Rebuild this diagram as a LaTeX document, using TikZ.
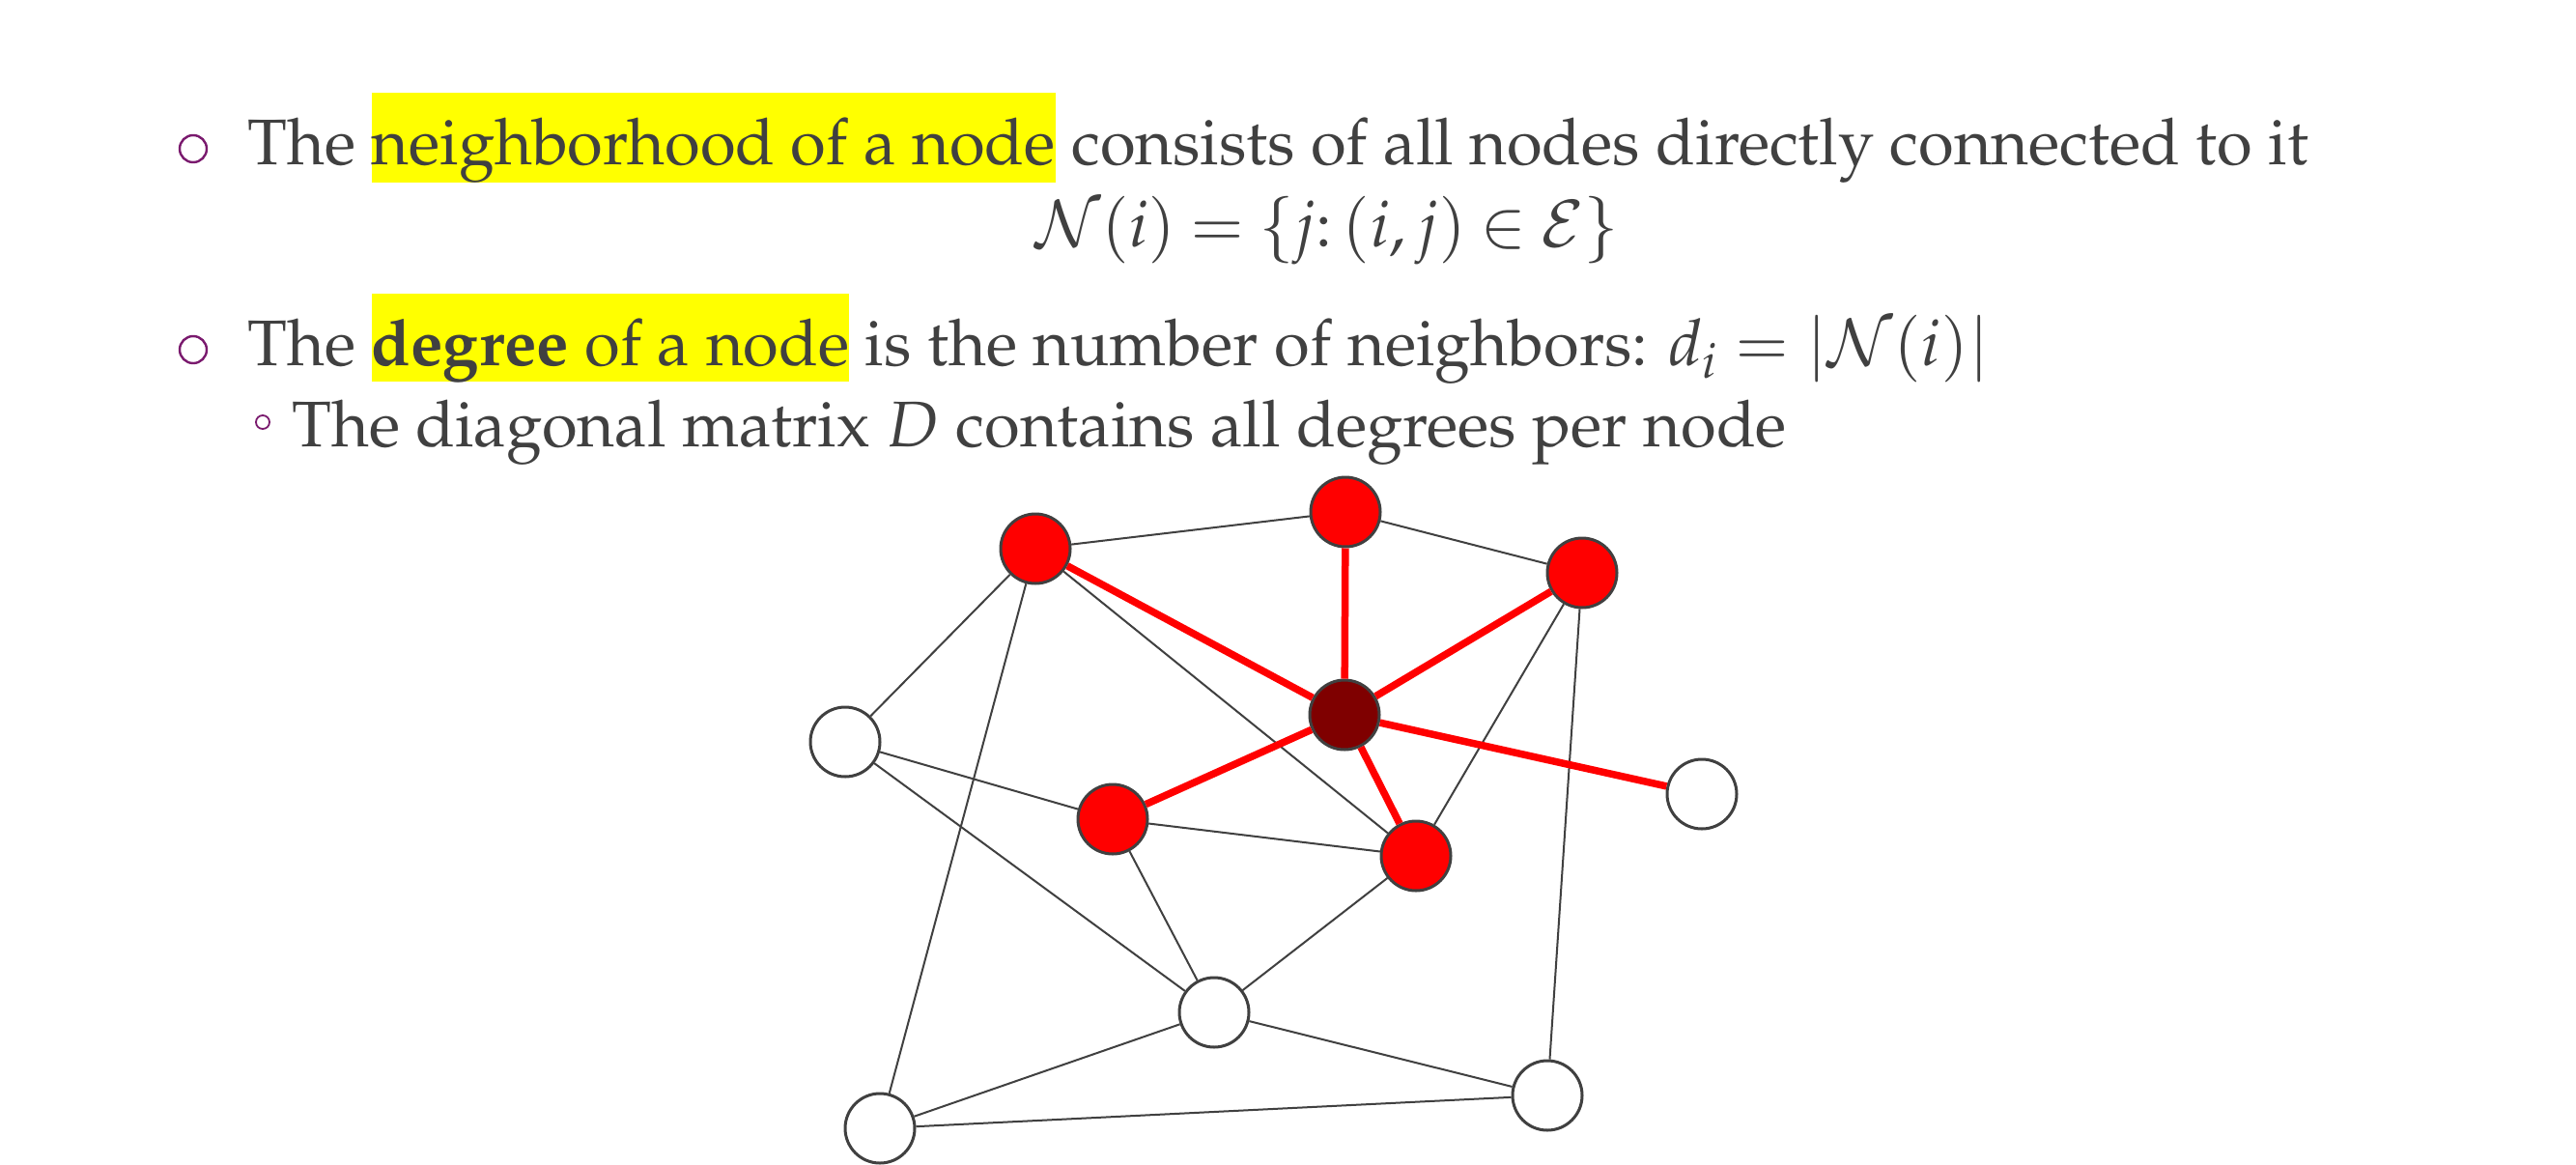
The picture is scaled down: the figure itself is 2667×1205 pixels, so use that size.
\documentclass[tikz,border=0pt]{standalone}
\usepackage[T1]{fontenc}
\usepackage{mathpazo}
\definecolor{txt}{HTML}{404040}
\definecolor{bul}{HTML}{7A1A6E}
\definecolor{hly}{HTML}{FFFF00}
\definecolor{nred}{HTML}{FF0000}
\definecolor{ndark}{HTML}{7F0000}
\definecolor{edgegray}{HTML}{404040}
\newcommand{\hlbox}[1]{{\setlength{\fboxsep}{0pt}\colorbox{hly}{\rule[-16pt]{0pt}{90pt}#1}}}
\begin{document}
\begin{tikzpicture}[x=1pt,y=-1pt,
  txtline/.style={anchor=base west,inner sep=0pt,text=txt,font=\fontsize{66.8}{80}\selectfont},
  eqline/.style={anchor=base,inner sep=0pt,text=txt,font=\fontsize{66.8}{80}\selectfont},
  bulletmark/.style={circle,draw=bul,line width=2.4pt,minimum size=28pt,inner sep=0pt},
  subbullet/.style={circle,draw=bul,line width=1.8pt,minimum size=14pt,inner sep=0pt},
  vtx/.style={circle,draw=edgegray,line width=3pt,minimum size=72pt,inner sep=0pt,fill=white},
  vred/.style={vtx,fill=nred},
  vdark/.style={vtx,fill=ndark},
  thinedge/.style={draw=edgegray,line width=2pt},
  rededge/.style={draw=nred,line width=7.5pt},
]
\useasboundingbox[fill=white] (0,0) rectangle (2667,1205);

% text
\node[bulletmark] (b1) at (200,154) {};
\node[txtline] (l1) at (256,170) {The \hlbox{neighborhood of a node} consists of all nodes directly connected to it};
\node[eqline] (eq) at (1374,255) {\thickmuskip=4mu plus 2mu$\mathcal{N}(i) = \{j\colon (i,j)\in\mathcal{E}\}$};
\node[bulletmark] (b2) at (200,362) {};
\node[txtline] (l2) at (256,378) {The \hlbox{\textbf{degree} of a node} is the number of neighbors: $d_i = |\mathcal{N}(i)|$};
\node[subbullet] (b3) at (272,437) {};
\node[txtline] (l3) at (302,462) {The diagonal matrix $D$ contains all degrees per node};

% graph nodes
\node[vred]  (A) at (1072,568) {};
\node[vred]  (B) at (1393,530) {};
\node[vred]  (C) at (1638,593) {};
\node[vdark] (X) at (1392,740) {};
\node[vtx]   (D) at (875,768) {};
\node[vtx]   (E) at (1762,822) {};
\node[vred]  (F) at (1152,848) {};
\node[vred]  (G) at (1466,886) {};
\node[vtx]   (H) at (1257,1048) {};
\node[vtx]   (I) at (1602,1134) {};
\node[vtx]   (J) at (911,1168) {};

% thin edges
\draw[thinedge] (A) -- (B);
\draw[thinedge] (B) -- (C);
\draw[thinedge] (A) -- (D);
\draw[thinedge] (A) -- (J);
\draw[thinedge] (A) -- (G);
\draw[thinedge] (D) -- (F);
\draw[thinedge] (D) -- (H);
\draw[thinedge] (F) -- (G);
\draw[thinedge] (F) -- (H);
\draw[thinedge] (G) -- (H);
\draw[thinedge] (C) -- (G);
\draw[thinedge] (C) -- (I);
\draw[thinedge] (H) -- (J);
\draw[thinedge] (H) -- (I);
\draw[thinedge] (J) -- (I);
% red edges
\draw[rededge] (X) -- (A);
\draw[rededge] (X) -- (B);
\draw[rededge] (X) -- (C);
\draw[rededge] (X) -- (F);
\draw[rededge] (X) -- (G);
\draw[rededge] (X) -- (E);
\end{tikzpicture}
\end{document}
